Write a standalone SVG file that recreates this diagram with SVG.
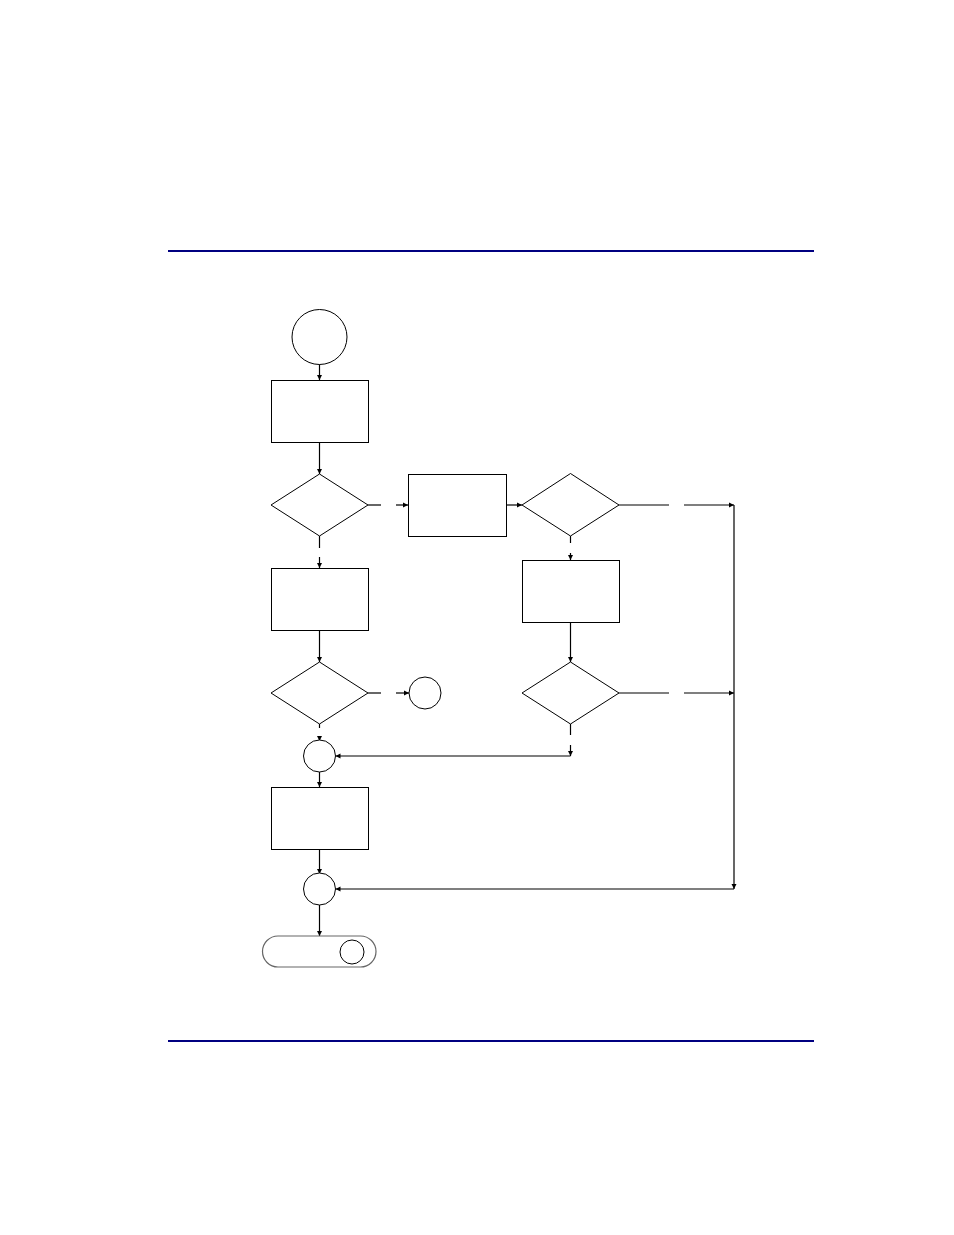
<svg xmlns="http://www.w3.org/2000/svg" width="954" height="1235" viewBox="0 0 954 1235">
<defs>
<style>
.n{fill:#fff;stroke:#000;stroke-width:1}
.t{fill:#fff;stroke:#666;stroke-width:1.2}
.c{fill:none;stroke:#000;stroke-width:1.2}
.rule{stroke:#000080;stroke-width:2}
</style>
<marker id="a" markerWidth="6" markerHeight="6" refX="5" refY="3" orient="auto" markerUnits="userSpaceOnUse">
<path d="M0,0.5 L5,3 L0,5.5 Z" fill="#000"/>
</marker>
</defs>
<rect width="954" height="1235" fill="#fff"/>
<line class="rule" x1="168" y1="251" x2="814" y2="251"/>
<line class="rule" x1="168" y1="1041" x2="814" y2="1041"/>
<g id="connectors">
<line class="c" x1="319.5" y1="364" x2="319.5" y2="380" marker-end="url(#a)"/>
<line class="c" x1="319.5" y1="442" x2="319.5" y2="474" marker-end="url(#a)"/>
<line class="c" x1="368" y1="505" x2="381" y2="505"/>
<line class="c" x1="396" y1="505" x2="408" y2="505" marker-end="url(#a)"/>
<line class="c" x1="507" y1="505" x2="522" y2="505" marker-end="url(#a)"/>
<line class="c" x1="319.5" y1="536" x2="319.5" y2="548"/>
<line class="c" x1="319.5" y1="557" x2="319.5" y2="568" marker-end="url(#a)"/>
<line class="c" x1="319.5" y1="630" x2="319.5" y2="662" marker-end="url(#a)"/>
<line class="c" x1="368" y1="693" x2="381" y2="693"/>
<line class="c" x1="396" y1="693" x2="409" y2="693" marker-end="url(#a)"/>
<line class="c" x1="319.5" y1="724" x2="319.5" y2="728"/>
<line class="c" x1="319.5" y1="738" x2="319.5" y2="741" marker-end="url(#a)"/>
<line class="c" x1="570.5" y1="756" x2="335.5" y2="756" marker-end="url(#a)"/>
<line class="c" x1="319.5" y1="771" x2="319.5" y2="787" marker-end="url(#a)"/>
<line class="c" x1="319.5" y1="849" x2="319.5" y2="874" marker-end="url(#a)"/>
<line class="c" x1="734" y1="889" x2="335.5" y2="889" marker-end="url(#a)"/>
<line class="c" x1="319.5" y1="904" x2="319.5" y2="936" marker-end="url(#a)"/>
<line class="c" x1="619" y1="505" x2="669" y2="505"/>
<line class="c" x1="684" y1="505" x2="734" y2="505" marker-end="url(#a)"/>
<line class="c" x1="570.5" y1="536" x2="570.5" y2="543"/>
<line class="c" x1="570.5" y1="553" x2="570.5" y2="560" marker-end="url(#a)"/>
<line class="c" x1="570.5" y1="622" x2="570.5" y2="662" marker-end="url(#a)"/>
<line class="c" x1="619" y1="693" x2="669" y2="693"/>
<line class="c" x1="684" y1="693" x2="734" y2="693" marker-end="url(#a)"/>
<line class="c" x1="570.5" y1="724" x2="570.5" y2="735"/>
<line class="c" x1="570.5" y1="745" x2="570.5" y2="756" marker-end="url(#a)"/>
<line class="c" x1="734" y1="505" x2="734" y2="889" marker-end="url(#a)"/>
</g>
<g id="start"><circle class="n" cx="319.5" cy="337" r="27.5"/></g>
<g id="box1"><rect class="n" x="271.5" y="380.5" width="97" height="62"/></g>
<g id="dec1"><polygon class="n" points="319.5,474 368,505 319.5,536 271,505"/></g>
<g id="box2"><rect class="n" x="408.5" y="474.5" width="98" height="62"/></g>
<g id="dec2"><polygon class="n" points="570.5,473.5 619,505 570.5,536 522,505"/></g>
<g id="box3"><rect class="n" x="271.5" y="568.5" width="97" height="62"/></g>
<g id="box4"><rect class="n" x="522.5" y="560.5" width="97" height="62"/></g>
<g id="dec3"><polygon class="n" points="319.5,662 368,693 319.5,724 271,693"/></g>
<g id="off1"><circle class="n" cx="425" cy="693" r="16"/></g>
<g id="dec4"><polygon class="n" points="570.5,662 619,693 570.5,724 522,693"/></g>
<g id="join1"><circle class="n" cx="319.5" cy="756" r="16"/></g>
<g id="box5"><rect class="n" x="271.5" y="787.5" width="97" height="62"/></g>
<g id="join2"><circle class="n" cx="319.5" cy="889" r="16"/></g>
<g id="end"><rect class="t" x="262.5" y="936" width="113.5" height="31" rx="15.5" ry="15.5"/><circle class="n" cx="352" cy="952" r="12"/></g>
</svg>
